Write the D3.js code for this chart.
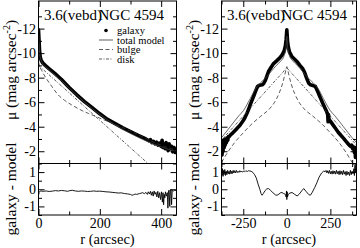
<!DOCTYPE html>
<html>
<head>
<meta charset="utf-8">
<script src="https://d3js.org/d3.v7.min.js"></script>
<style>
  body { margin: 0; background: #fff; }
  svg text { font-family: "Liberation Serif", "DejaVu Serif", serif; fill: #000; }
</style>
</head>
<body>
<div id="chart"></div>
<script>
// ---- data: [r (arcsec), mu (mag arcsec^-2)] ----

// left panel (one side, r >= 0)
const galaxyL = [[0,-11.9],[1,-11.4],[2,-10.9],[3,-10.4],[4,-10.0],[6,-9.65],[9,-9.4],[14,-9.2],[22,-9.0],[35,-8.72],[53,-8.35],[75,-7.85],[100,-7.2],[125,-6.6],[150,-6.05],[175,-5.55],[200,-5.05],[225,-4.6],[250,-4.25],[275,-3.9],[300,-3.6],[325,-3.3],[350,-3.0],[360,-2.85],[365,-2.95],[370,-2.7],[375,-2.8],[380,-2.6],[385,-2.75],[390,-2.5],[395,-2.65],[400,-2.4],[403,-2.9],[406,-2.3],[410,-2.6],[413,-2.2],[416,-2.7],[420,-2.3],[423,-2.05],[426,-2.6],[430,-2.2],[434,-2.4],[438,-1.95],[442,-2.3],[446,-1.9],[450,-2.1]];
const totalL = [[0,-11.6],[2,-10.8],[4,-9.9],[8,-9.45],[14,-9.1],[25,-8.85],[50,-8.3],[75,-7.75],[100,-7.15],[150,-6.0],[200,-5.0],[250,-4.15],[300,-3.45],[350,-2.85],[400,-2.35],[450,-1.95]];
const bulgeL = [[0,-9.3],[3,-9.0],[10,-8.6],[25,-7.95],[43,-7.3],[64,-6.6],[85,-6.15],[108,-5.78],[135,-5.4],[163,-5.08],[190,-4.8],[217,-4.52],[244,-4.25],[271,-3.97],[298,-3.67],[325,-3.35],[352,-3.02],[379,-2.7],[410,-2.4],[450,-2.05]];
const diskL = [[0,-9.0],[357,-1.0],[400,-0.05]];
const residL = [[0,-0.35],[2,-0.2],[4,-0.12],[8,-0.1],[15,-0.12],[25,-0.1],[35,-0.13],[45,-0.11],[55,-0.08],[65,-0.1],[75,-0.07],[85,-0.09],[95,-0.12],[100,-0.09],[110,-0.06],[120,-0.1],[130,-0.12],[140,-0.1],[150,-0.11],[160,-0.13],[170,-0.12],[180,-0.1],[190,-0.12],[200,-0.11],[210,-0.13],[220,-0.15],[230,-0.16],[240,-0.18],[250,-0.2],[260,-0.22],[270,-0.21],[280,-0.25],[290,-0.27],[300,-0.3],[305,-0.35],[310,-0.32],[315,-0.28],[320,-0.3],[330,-0.25],[340,-0.2],[345,-0.26],[350,-0.18],[355,-0.3],[358,-0.15],[362,-0.28],[365,-0.12],[368,-0.35],[371,-0.15],[374,-0.4],[377,-0.1],[380,-0.3],[383,-0.18],[386,-0.45],[389,-0.12],[392,-0.5],[395,-0.2],[398,-0.6],[401,-0.15],[404,-0.75],[406,-0.2],[408,-0.9],[410,-0.3],[412,-0.5],[414,-0.15],[417,-0.4],[420,-0.2],[422,-1.1],[424,-0.1],[426,-0.05],[428,-1.0],[430,-0.1],[432,0.0],[434,-0.9],[436,-0.05],[440,-0.1],[445,-0.05],[450,-0.1]];

// right panel (both sides of the centre)
const galaxyR = [[-375,-2.2],[-372,-1.7],[-369,-2.5],[-366,-2.0],[-363,-2.9],[-360,-2.3],[-357,-3.0],[-354,-2.5],[-351,-2.9],[-347,-2.7],[-343,-3.1],[-339,-2.9],[-335,-3.2],[-330,-3.2],[-325,-3.3],[-318,-3.4],[-310,-3.5],[-300,-3.65],[-290,-3.8],[-280,-3.95],[-270,-4.1],[-260,-4.3],[-250,-4.5],[-240,-4.75],[-230,-5.05],[-220,-5.4],[-210,-5.8],[-200,-6.15],[-190,-6.5],[-182,-6.8],[-175,-7.05],[-168,-7.28],[-160,-7.36],[-150,-7.4],[-140,-7.43],[-132,-7.55],[-124,-7.75],[-115,-8.1],[-105,-8.5],[-90,-8.85],[-76,-9.15],[-60,-9.35],[-45,-9.55],[-35,-9.7],[-25,-9.9],[-15,-10.2],[-8,-10.6],[-4,-11.1],[-1,-11.7],[0,-11.9],[1,-11.7],[4,-11.0],[8,-10.55],[15,-10.1],[30,-9.7],[45,-9.5],[59,-9.3],[75,-9.0],[90,-8.75],[100,-8.5],[110,-8.1],[118,-7.8],[126,-7.55],[135,-7.42],[145,-7.38],[155,-7.33],[164,-7.28],[170,-7.1],[178,-6.85],[187,-6.55],[196,-6.25],[205,-5.95],[215,-5.65],[225,-5.35],[231,-5.15],[235,-4.95],[237,-4.4],[239,-5.0],[242,-4.6],[245,-4.55],[255,-4.35],[265,-4.15],[280,-3.85],[295,-3.55],[310,-3.3],[326,-3.05],[340,-2.8],[355,-2.55],[365,-2.4],[372,-2.5],[378,-2.2],[384,-2.35],[388,-1.9],[391,-2.3],[394,-1.5],[397,-2.0],[400,-1.6]];
const totalR = [[-375,-3.1],[-325,-4.0],[-275,-4.9],[-250,-5.3],[-210,-6.3],[-180,-7.1],[-150,-7.6],[-120,-8.0],[-90,-8.5],[-60,-9.0],[-35,-9.35],[-15,-9.8],[-5,-10.4],[0,-11.4],[5,-10.4],[15,-9.8],[35,-9.35],[60,-9.0],[90,-8.5],[120,-8.0],[150,-7.6],[180,-7.1],[210,-6.3],[250,-5.3],[275,-4.9],[325,-4.0],[375,-3.1],[400,-2.7]];
const bulgeR = [[-375,-1.1],[-340,-1.9],[-300,-2.7],[-250,-3.5],[-200,-4.24],[-150,-4.85],[-100,-5.45],[-70,-6.0],[-45,-6.7],[-25,-7.5],[-12,-8.2],[-4,-8.7],[0,-8.9],[4,-8.7],[12,-8.2],[25,-7.5],[45,-6.7],[70,-6.0],[100,-5.45],[150,-4.85],[200,-4.24],[250,-3.5],[300,-2.7],[340,-1.9],[375,-1.1],[400,-0.6]];
const diskR = [[-375,-2.9],[0,-8.8],[400,-2.5]];
const residR = [[-375,1.3],[-372,0.8],[-369,1.2],[-366,0.75],[-363,1.1],[-360,0.85],[-356,1.15],[-352,0.8],[-348,1.05],[-344,0.85],[-340,1.1],[-336,0.9],[-332,1.05],[-328,0.88],[-324,1.12],[-320,0.9],[-316,1.05],[-312,0.92],[-308,1.1],[-304,0.95],[-300,1.08],[-295,0.95],[-290,1.1],[-285,0.97],[-280,1.05],[-275,0.98],[-270,1.08],[-265,1.0],[-260,1.06],[-255,1.0],[-250,1.05],[-245,1.02],[-240,1.08],[-235,1.03],[-230,1.07],[-225,1.04],[-220,1.08],[-212,1.06],[-205,1.05],[-195,0.98],[-185,0.85],[-175,0.65],[-165,0.3],[-155,0.0],[-148,-0.25],[-142,-0.35],[-135,-0.25],[-125,-0.08],[-115,0.02],[-105,0.04],[-95,-0.05],[-80,-0.2],[-65,-0.33],[-56,-0.35],[-45,-0.28],[-35,-0.2],[-28,-0.19],[-18,-0.25],[-8,-0.3],[-4,-0.45],[-2,-0.1],[0,-0.6],[2,-0.15],[4,-0.45],[8,-0.3],[18,-0.22],[30,-0.19],[45,-0.3],[59,-0.39],[70,-0.3],[85,-0.1],[97,0.04],[110,-0.12],[125,-0.3],[135,-0.35],[145,-0.2],[160,0.1],[173,0.39],[185,0.7],[200,0.95],[212,1.06],[220,1.02],[225,1.1],[230,0.95],[235,1.08],[240,0.92],[245,1.1],[250,0.9],[255,1.05],[260,0.88],[265,1.08],[270,0.9],[275,1.06],[280,0.88],[285,1.1],[290,0.9],[295,1.05],[300,0.85],[305,1.08],[310,0.87],[315,1.05],[320,0.85],[325,1.1],[330,0.88],[335,1.03],[340,0.8],[345,1.05],[350,0.85],[355,1.0],[360,0.8],[365,1.1],[370,0.85],[375,1.05],[380,0.9],[385,1.2],[388,0.8],[391,1.4],[394,1.0],[397,1.5],[400,1.2]];

// ticks and labels
const xMajorL = [0, 200, 400], xMinorL = [100, 300];
const xMajorR = [-250, 0, 250], xMinorR = [-375, -125, 125, 375];
const muMajor = [-12, -10, -8, -6, -4, -2], muMinor = [-13, -11, -9, -7, -5, -3];
const resMajor = [1, 0, -1], resMinor = [1.5, 0.5, -0.5, -1.5];
const legendNames = ["galaxy", "total model", "bulge", "disk"];
const titleBand = "3.6(vebd)", titleGal = "NGC 4594";

// ---- layout ----
const W = 360, H = 248;
const FONT = "'Liberation Serif', 'DejaVu Serif', serif";
const svg = d3.select("#chart").append("svg").attr("width", W).attr("height", H)
  .attr("font-family", FONT);

const yMain = d3.scaleLinear().domain([-1, -14.25]).range([163.5, 1]);
const yRes = d3.scaleLinear().domain([-1.5, 1.5]).range([215, 163.5]);

const BIG = 6, SMALL = 3.5;

function drawPanel(cfg) {
  const x = d3.scaleLinear().domain(cfg.domain).range(cfg.range);
  const [x0, x1] = cfg.range;
  const g = svg.append("g");

  // clip paths
  const defs = svg.append("defs");
  defs.append("clipPath").attr("id", cfg.id + "m").append("rect")
    .attr("x", x0).attr("y", 1).attr("width", x1 - x0).attr("height", 162.5);
  defs.append("clipPath").attr("id", cfg.id + "r").append("rect")
    .attr("x", x0).attr("y", 163.5).attr("width", x1 - x0).attr("height", 51.5);

  const line = (ys, curve) => d3.line().x(d => x(d[0])).y(d => ys(d[1])).curve(curve || d3.curveLinear);

  const main = g.append("g").attr("clip-path", `url(#${cfg.id}m)`);
  main.append("path").datum(cfg.galaxy).attr("d", line(yMain))
    .attr("fill", "none").attr("stroke", "#000").attr("stroke-width", 3.6)
    .attr("stroke-linejoin", "round").attr("stroke-linecap", "round");
  main.append("path").datum(cfg.total).attr("d", line(yMain, d3.curveMonotoneX))
    .attr("fill", "none").attr("stroke", "#444").attr("stroke-width", 0.8);
  main.append("path").datum(cfg.bulge).attr("d", line(yMain, d3.curveMonotoneX))
    .attr("fill", "none").attr("stroke", "#333").attr("stroke-width", 0.8)
    .attr("stroke-dasharray", "4,2.5");
  main.append("path").datum(cfg.disk).attr("d", line(yMain))
    .attr("fill", "none").attr("stroke", "#333").attr("stroke-width", 0.8)
    .attr("stroke-dasharray", "3,1.5,1,1.5");

  const res = g.append("g").attr("clip-path", `url(#${cfg.id}r)`);
  res.append("path").datum(cfg.resid).attr("d", line(yRes))
    .attr("fill", "none").attr("stroke", "#000").attr("stroke-width", 0.9);

  // axes with inward ticks on all four sides
  const ax = (axis, tr, size, vals, labels) => {
    const a = axis.tickValues(vals).tickSize(-size).tickPadding(2.5)
      .tickFormat(labels ? (d => String(d)) : "");
    const s = g.append("g").attr("transform", tr).call(a)
      .attr("font-family", FONT).attr("font-size", 14);
    s.select(".domain").remove();
    s.selectAll("line").attr("stroke", "#000");
    return s;
  };
  // main panel
  ax(d3.axisLeft(yMain), `translate(${x0},0)`, BIG, muMajor, true);
  ax(d3.axisLeft(yMain), `translate(${x0},0)`, SMALL, muMinor, false);
  ax(d3.axisRight(yMain), `translate(${x1},0)`, BIG, muMajor, false);
  ax(d3.axisRight(yMain), `translate(${x1},0)`, SMALL, muMinor, false);
  ax(d3.axisTop(x), `translate(0,1)`, BIG, cfg.xMajor, false);
  ax(d3.axisTop(x), `translate(0,1)`, SMALL, cfg.xMinor, false);
  ax(d3.axisBottom(x), `translate(0,163.5)`, BIG, cfg.xMajor, false);
  ax(d3.axisBottom(x), `translate(0,163.5)`, SMALL, cfg.xMinor, false);
  // residual panel
  ax(d3.axisLeft(yRes), `translate(${x0},0)`, BIG, resMajor, true);
  ax(d3.axisLeft(yRes), `translate(${x0},0)`, SMALL, resMinor, false);
  ax(d3.axisRight(yRes), `translate(${x1},0)`, BIG, resMajor, false);
  ax(d3.axisRight(yRes), `translate(${x1},0)`, SMALL, resMinor, false);
  ax(d3.axisTop(x), `translate(0,163.5)`, BIG, cfg.xMajor, false);
  ax(d3.axisTop(x), `translate(0,163.5)`, SMALL, cfg.xMinor, false);
  const xb = ax(d3.axisBottom(x), `translate(0,215)`, BIG, cfg.xMajor, true);
  xb.selectAll(".tick text").attr("dy", "0.71em").attr("y", 3.5);
  ax(d3.axisBottom(x), `translate(0,215)`, SMALL, cfg.xMinor, false);

  // frames
  g.append("rect").attr("x", x0).attr("y", 1).attr("width", x1 - x0).attr("height", 162.5)
    .attr("fill", "none").attr("stroke", "#000");
  g.append("rect").attr("x", x0).attr("y", 163.5).attr("width", x1 - x0).attr("height", 51.5)
    .attr("fill", "none").attr("stroke", "#000");

  // titles
  g.append("text").attr("x", x0 + 5.5).attr("y", 20).attr("font-size", 15).text(titleBand);
  g.append("text").attr("x", x0 + 60).attr("y", 20).attr("font-size", 15).text(titleGal);

  // axis labels
  g.append("text").attr("x", (x0 + x1) / 2).attr("y", 243.5).attr("text-anchor", "middle")
    .attr("font-size", 14.5).text("r (arcsec)");
  const lx = x0 - 23;
  const mu = g.append("text").attr("transform", `translate(${lx},70) rotate(-90)`)
    .attr("text-anchor", "middle").attr("font-size", 15.5);
  mu.append("tspan").text("μ  (mag arcsec");
  mu.append("tspan").attr("dy", -6).attr("font-size", 10).text("-2");
  mu.append("tspan").attr("dy", 6).text(")");
  g.append("text").attr("transform", `translate(${lx},189) rotate(-90)`)
    .attr("text-anchor", "middle").attr("font-size", 15.5).text("galaxy - model");

  return x;
}

drawPanel({ id: "L", domain: [0, 450], range: [38.5, 176.5], xMajor: xMajorL, xMinor: xMinorL,
  galaxy: galaxyL, total: totalL, bulge: bulgeL, disk: diskL, resid: residL });
drawPanel({ id: "R", domain: [-375, 400], range: [221.5, 356.5], xMajor: xMajorR, xMinor: xMinorR,
  galaxy: galaxyR, total: totalR, bulge: bulgeR, disk: diskR, resid: residR });

// legend (left panel)
const leg = svg.append("g");
const legY = [34, 43.5, 53, 62.5];
const dash = [null, null, "4,2.5", "3,1.5,1,1.5"];
legendNames.forEach((name, i) => {
  if (i === 0) {
    leg.append("circle").attr("cx", 106).attr("cy", legY[i] - 3.5).attr("r", 1.8).attr("fill", "#000");
  } else {
    leg.append("line").attr("x1", 99).attr("x2", 113).attr("y1", legY[i] - 3.5).attr("y2", legY[i] - 3.5)
      .attr("stroke", "#333").attr("stroke-width", 0.8).attr("stroke-dasharray", dash[i]);
  }
  leg.append("text").attr("x", 117).attr("y", legY[i]).attr("font-size", 10.5).text(name);
});
</script>
</body>
</html>
